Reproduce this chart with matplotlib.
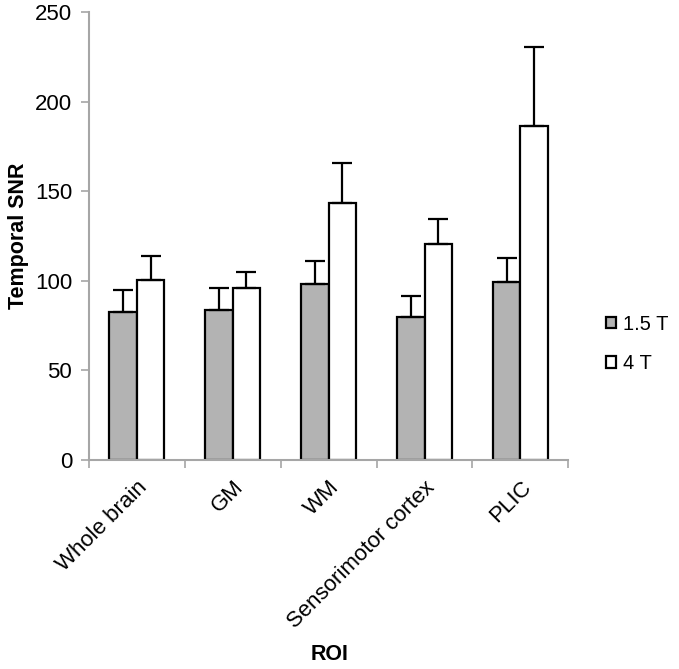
import numpy as np
import matplotlib
matplotlib.use("Agg")
import matplotlib.pyplot as plt

plt.rcParams['font.family'] = ['Liberation Sans', 'DejaVu Sans']

# data
rois = ["Whole brain", "GM", "WM", "Sensorimotor cortex", "PLIC"]
snr_15T = [82.5, 83.6, 98.3, 80.0, 99.2]
err_15T = [12.2, 12.6, 12.5, 11.6, 13.8]
snr_4T = [100.5, 96.0, 143.7, 120.8, 186.5]
err_4T = [13.6, 8.8, 22.3, 13.6, 44.0]

fig = plt.figure(figsize=(6.79, 6.69), dpi=100)
ax = fig.add_axes([0.131, 0.3124, 0.706, 0.6696])

x = np.arange(len(rois))
w = 0.2857
axis_gray = "#a6a6a6"

ax.bar(x - w / 2, snr_15T, w, color="#b3b3b3", edgecolor="black", linewidth=1.6, label="1.5 T", zorder=2)
ax.bar(x + w / 2, snr_4T, w, color="white", edgecolor="black", linewidth=1.6, label="4 T", zorder=2)
ax.errorbar(x - w / 2, snr_15T, yerr=[np.zeros(len(x)), err_15T], fmt="none",
            ecolor="black", elinewidth=1.6, capsize=7.5, capthick=1.6, zorder=3)
ax.errorbar(x + w / 2, snr_4T, yerr=[np.zeros(len(x)), err_4T], fmt="none",
            ecolor="black", elinewidth=1.6, capsize=7.5, capthick=1.6, zorder=3)

ax.set_xlim(-0.5, len(rois) - 0.5)
ax.set_ylim(0, 250)
ax.set_yticks([0, 50, 100, 150, 200, 250])

# Excel style: tick marks between categories, labels at centres
ax.set_xticks(np.arange(len(rois) + 1) - 0.5)
ax.set_xticklabels([])
ax.set_xticks(x, minor=True)
ax.set_xticklabels(rois, minor=True, rotation=45, ha="right", va="top",
                   rotation_mode="anchor", fontsize=16)
ax.tick_params(axis="x", which="minor", length=0, pad=12)
ax.tick_params(axis="x", which="major", length=6, width=1.2, color=axis_gray)
ax.tick_params(axis="y", length=6, width=1.2, color=axis_gray, labelsize=16, pad=6)

for s in ["top", "right"]:
    ax.spines[s].set_visible(False)
for s in ["left", "bottom"]:
    ax.spines[s].set_color(axis_gray)
    ax.spines[s].set_linewidth(1.5)

ax.set_ylabel("Temporal SNR", fontsize=15.5, fontweight="bold")
ax.yaxis.set_label_coords(-0.125, 0.5)
fig.text(0.486, 0.021, "ROI", fontsize=15.5, fontweight="bold", ha="center", va="center")

fig.legend(loc="center left", bbox_to_anchor=(0.892, 0.486), frameon=False,
           fontsize=14.5, handlelength=0.5, handleheight=0.5, handletextpad=0.35,
           labelspacing=1.0, borderpad=0, borderaxespad=0)

fig.savefig("out.png", dpi=100)
